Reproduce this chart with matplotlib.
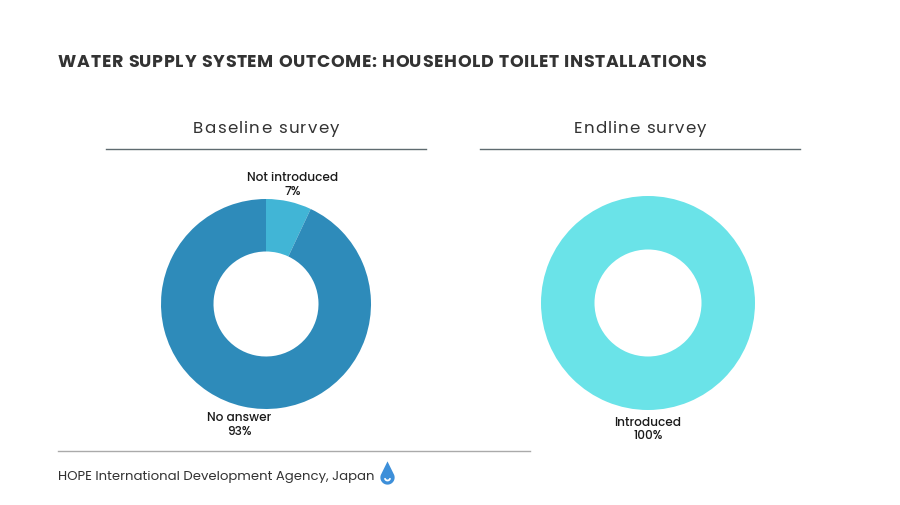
import matplotlib
matplotlib.use("Agg")
import matplotlib.pyplot as plt
from matplotlib.path import Path
from matplotlib.patches import PathPatch
from matplotlib.font_manager import FontProperties, findfont, get_font
import numpy as np

plt.rcParams['font.family'] = ['Poppins', 'Open Sans', 'DejaVu Sans']

title = "WATER SUPPLY SYSTEM OUTCOME: HOUSEHOLD TOILET INSTALLATIONS"
footer = "HOPE International Development Agency, Japan"

panel_titles = ["Baseline survey", "Endline survey"]
baseline_labels = ["Not introduced", "No answer"]
baseline_values = [7, 93]
baseline_colors = ["#41B5D6", "#2E8BBA"]
endline_labels = ["Introduced"]
endline_values = [100]
endline_colors = ["#6AE3E8"]

W, H = 900, 506
DPI = 100
fig = plt.figure(figsize=(W / DPI, H / DPI), dpi=DPI)
fig.patch.set_facecolor("white")


def fx(x):
    return x / W


def fy(y):
    return 1 - y / H


def tracked_text(s, x, y, size, target_width, weight="normal", color="#333333", ha="left"):
    """Draw text with letter spacing so it spans target_width pixels."""
    fp = FontProperties(family=plt.rcParams['font.family'], weight=weight, size=size)
    font = get_font(findfont(fp))
    font.set_size(size, DPI)
    adv = []
    for c in s:
        g = font.load_char(ord(c))
        adv.append(g.linearHoriAdvance / 65536.0)
    natural = sum(adv[:-1])
    last = font.load_char(ord(s[-1]))
    last_w = last.width / 64.0
    spacing = (target_width - natural - last_w) / (len(s) - 1)
    x0 = x - target_width / 2 if ha == "center" else x
    cur = x0
    for c, a in zip(s, adv):
        fig.text(fx(cur), fy(y), c, fontproperties=fp, color=color, ha="left", va="center")
        cur += a + spacing


tracked_text(title, 58, 63, 12.5, 647, weight="bold", color="#333333")


def donut(cx, cy, r, values, labels, colors, ptitle, line_x0, line_x1, tw):
    ax = fig.add_axes([fx(cx - r * 1.5), fy(cy + r * 1.5), 3 * r / W, 3 * r / H])
    wedges, _ = ax.pie(values, colors=colors, startangle=90, counterclock=False,
                       radius=1.0, wedgeprops=dict(width=0.5, edgecolor="none"))
    ax.set_xlim(-1.5, 1.5)
    ax.set_ylim(-1.5, 1.5)
    ax.set_aspect("equal")
    ax.axis("off")
    total = sum(values)
    for w, lab, v in zip(wedges, labels, values):
        ang = np.deg2rad((w.theta1 + w.theta2) / 2)
        ax.text(1.17 * np.cos(ang), 1.17 * np.sin(ang), f"{lab}\n{round(100 * v / total)}%",
                ha="center", va="center", fontsize=8.7, fontweight="medium",
                color="#1a1a1a", linespacing=1.15)
    tracked_text(ptitle, (line_x0 + line_x1) / 2, 129, 12, tw, color="#333333", ha="center")
    fig.add_artist(plt.Line2D([fx(line_x0), fx(line_x1)], [fy(150), fy(150)],
                              color="#5f6b70", lw=1.0))


donut(266, 305, 105, baseline_values, baseline_labels, baseline_colors,
      panel_titles[0], 106, 426, 146)
donut(648, 304, 107, endline_values, endline_labels, endline_colors,
      panel_titles[1], 480, 800, 132)

fig.add_artist(plt.Line2D([fx(58), fx(530)], [fy(452), fy(452)], color="#aaaaaa", lw=1.0))
fig.text(fx(58), fy(477), footer, fontsize=9.5, color="#333333", ha="left", va="center")

# water drop icon
dax = fig.add_axes([fx(380), fy(486), 15 / W, 24 / H])
dax.set_xlim(-1, 1)
dax.set_ylim(-1.0, 2.2)
dax.axis("off")
cang = np.linspace(np.deg2rad(30), np.deg2rad(-210), 60)
circle_pts = [(0.95 * np.cos(a), 0.95 * np.sin(a)) for a in cang]
verts = [(0, 2.15)] + circle_pts + [(0, 2.15)]
codes = [Path.MOVETO] + [Path.LINETO] * (len(verts) - 2) + [Path.CLOSEPOLY]
dax.add_patch(PathPatch(Path(verts, codes), facecolor="#3D8FD9", edgecolor="none"))
sm = np.linspace(np.deg2rad(200), np.deg2rad(340), 20)
dax.plot(0.35 * np.cos(sm), 0.35 * np.sin(sm) - 0.05, color="white", lw=1.3,
         solid_capstyle="round")

fig.savefig("out.png", dpi=DPI, facecolor="white")
